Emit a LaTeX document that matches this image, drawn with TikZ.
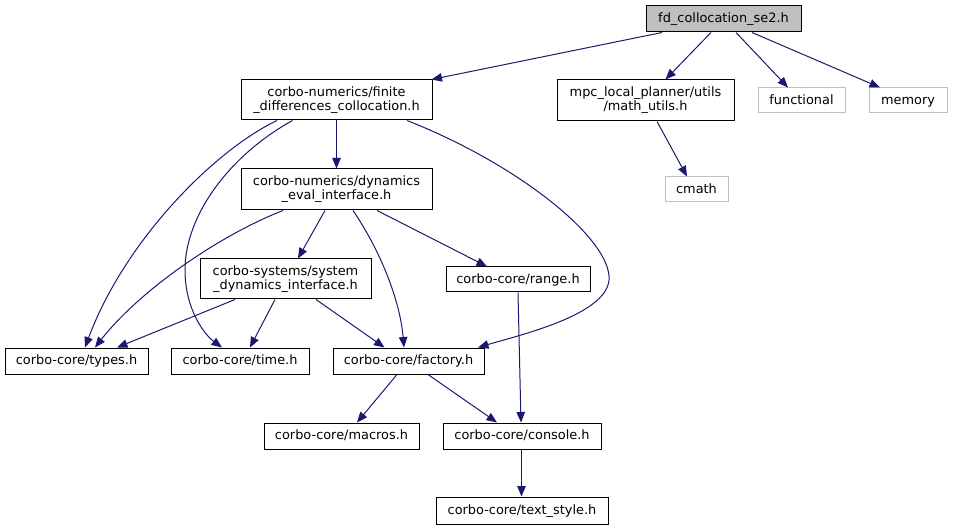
\documentclass[tikz,border=0pt]{standalone}
\usepackage{fontspec}
\setmainfont{DejaVu Sans}
\usetikzlibrary{arrows.meta}
\definecolor{edgecol}{HTML}{191970}
\definecolor{grayfill}{HTML}{BFBFBF}
\definecolor{grayline}{HTML}{BFBFBF}
\newcommand{\lstrut}{\rule[-3pt]{0pt}{13.4pt}}
\begin{document}
\begin{tikzpicture}[x=1pt,y=-1pt,
  every node/.style={font=\fontsize{12.9}{14}\selectfont, inner sep=0pt, align=center},
  filebox/.style={draw=black, line width=1pt, fill=white},
  rootbox/.style={draw=black, line width=1pt, fill=grayfill},
  extbox/.style={draw=grayline, line width=1pt, fill=white},
  dep/.style={draw=edgecol, line width=1pt, -{Triangle[length=10.5pt,width=8.5pt]}, color=edgecol}
]
\useasboundingbox (0,0) rectangle (953,529);
% nodes
\node[rootbox, minimum width=155pt, minimum height=26pt] (fd) at (723.5,19) {\lstrut fd\_collocation\_se2.h};
\node[filebox, minimum width=191pt, minimum height=40pt] (finite) at (336.5,100) {corbo-numerics/finite\\\_differences\_collocation.h};
\node[filebox, minimum width=177pt, minimum height=41pt] (mpc) at (645.5,100.5) {mpc\_local\_planner/utils\\/math\_utils.h};
\node[extbox, minimum width=87pt, minimum height=25pt] (functional) at (801.5,100.5) {\lstrut functional};
\node[extbox, minimum width=78pt, minimum height=25pt] (memory) at (908,100.5) {\lstrut memory};
\node[extbox, minimum width=63pt, minimum height=25pt] (cmath) at (696.5,189.5) {\lstrut cmath};
\node[filebox, minimum width=191pt, minimum height=41pt] (dyn) at (336.5,189.5) {corbo-numerics/dynamics\\\_eval\_interface.h};
\node[filebox, minimum width=171pt, minimum height=40pt] (sys) at (285.5,279) {corbo-systems/system\\\_dynamics\_interface.h};
\node[filebox, minimum width=144pt, minimum height=25pt] (range) at (518,279.5) {\lstrut corbo-core/range.h};
\node[filebox, minimum width=143pt, minimum height=26pt] (types) at (76.5,361) {\lstrut corbo-core/types.h};
\node[filebox, minimum width=138pt, minimum height=26pt] (time) at (240,361) {\lstrut corbo-core/time.h};
\node[filebox, minimum width=151pt, minimum height=26pt] (factory) at (408.5,361) {\lstrut corbo-core/factory.h};
\node[filebox, minimum width=155pt, minimum height=26pt] (macros) at (341.5,436) {\lstrut corbo-core/macros.h};
\node[filebox, minimum width=158pt, minimum height=26pt] (console) at (522,436) {\lstrut corbo-core/console.h};
\node[filebox, minimum width=172pt, minimum height=27pt] (textstyle) at (522,510.5) {\lstrut corbo-core/text\_style.h};
% edges
\draw[dep] ([xshift=-61.5pt]fd.south) -- ([xshift=-1pt]finite.north east);
\draw[dep] ([xshift=-12.5pt]fd.south) -- ([xshift=20pt]mpc.north);
\draw[dep] ([xshift=12.5pt]fd.south) -- ([xshift=-13.5pt]functional.north);
\draw[dep] ([xshift=28.5pt]fd.south) -- ([xshift=-28pt]memory.north);
\draw[dep] ([xshift=11.5pt]mpc.south) -- ([xshift=-9.5pt]cmath.north);
\draw[dep] (finite.south) -- (dyn.north);
\draw[dep] ([xshift=-59.5pt]finite.south) .. controls (215,150) and (125,240) .. ([xshift=8.5pt]types.north);
\draw[dep] ([xshift=-44pt]finite.south) .. controls (230,155) and (185,215) .. (185,270) .. controls (185,310) and (205,335) .. ([xshift=-18pt]time.north);
\draw[dep] ([xshift=70.5pt]finite.south) .. controls (520,165) and (612,240) .. (609,280) .. controls (606,315) and (520,335) .. ([xshift=69.5pt]factory.north);
\draw[dep] ([xshift=-53.5pt]dyn.south) .. controls (220,235) and (140,290) .. ([xshift=18.5pt]types.north);
\draw[dep] ([xshift=-11.5pt]dyn.south) -- ([xshift=12.5pt]sys.north);
\draw[dep] ([xshift=16.5pt]dyn.south) .. controls (380,250) and (400,300) .. ([xshift=-4.5pt]factory.north);
\draw[dep] ([xshift=40.5pt]dyn.south) -- ([xshift=-31pt]range.north);
\draw[dep] ([xshift=-50.5pt]sys.south) -- ([xshift=40.5pt]types.north);
\draw[dep] ([xshift=-10.5pt]sys.south) -- ([xshift=10pt]time.north);
\draw[dep] ([xshift=30.5pt]sys.south) -- ([xshift=-24pt]factory.north);
\draw[dep] (range.south) -- ([xshift=-1pt]console.north);
\draw[dep] ([xshift=-11.5pt]factory.south) -- ([xshift=15.5pt]macros.north);
\draw[dep] ([xshift=19.5pt]factory.south) -- ([xshift=-25pt]console.north);
\draw[dep] ([xshift=-0.5pt]console.south) -- ([xshift=-0.5pt]textstyle.north);
\end{tikzpicture}
\end{document}
